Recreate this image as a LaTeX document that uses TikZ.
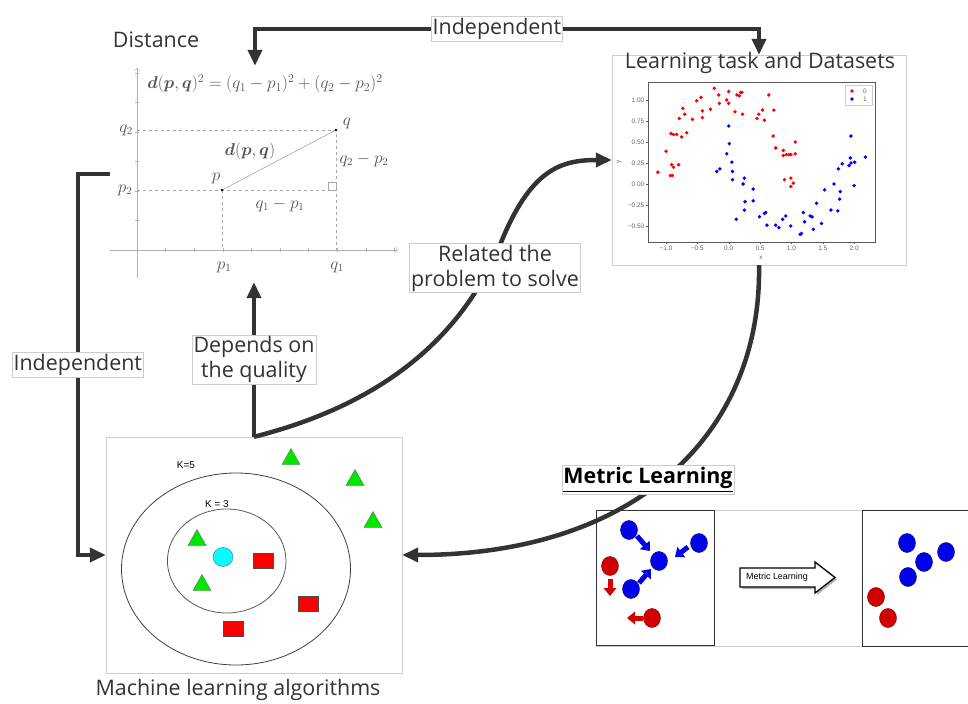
\documentclass[tikz,border=0pt]{standalone}
\usepackage{amsmath}
\usepackage{amssymb}
\usepackage{fontspec}
\setmainfont{Open Sans}
\newfontfamily\arialfont{Liberation Sans}
\usepackage{tikz}
\usetikzlibrary{arrows.meta,shapes,positioning}
\usepackage{xcolor}
\definecolor{mlgray}{RGB}{51,51,51}
\definecolor{mlframe}{RGB}{204,204,204}
\definecolor{mathgray}{RGB}{85,85,85}
\definecolor{ptred}{RGB}{255,0,0}
\definecolor{ptblue}{RGB}{0,0,255}
\definecolor{knngreen}{RGB}{0,230,0}
\definecolor{knnred}{RGB}{255,0,0}
\definecolor{knncyan}{RGB}{0,255,255}
\definecolor{mlblue}{RGB}{0,0,235}
\definecolor{mlred}{RGB}{210,0,0}
\tikzstyle{conn} = [line width=4.5bp, color=mlgray, -{Triangle[length=16bp,width=14bp]}]
\tikzstyle{twoway} = [conn, {Triangle[length=16bp,width=14bp]}-{Triangle[length=16bp,width=14bp]}]
\tikzstyle{lbl} = [rectangle, draw=mlframe, fill=white, thin, text=mlgray, font=\fontsize{21.5}{25}\selectfont, inner sep=1.5bp, align=center]
\tikzstyle{title} = [text=mlgray, font=\fontsize{21.5}{25}\selectfont]
\tikzstyle{panel} = [rectangle, draw=mlframe, thin]
\tikzstyle{mathlbl} = [text=mathgray, font=\fontsize{16}{18}\selectfont, inner sep=0]
\tikzstyle{tick} = [text=gray!80!black, font=\arialfont\fontsize{6.5}{7}\selectfont, inner sep=1bp]
\tikzstyle{push} = [line width=5bp, -{Triangle[length=8bp,width=12.5bp]}]

\begin{document}
\begin{tikzpicture}[x=1bp, y=-1bp]
\useasboundingbox (0,0) rectangle (968,704);
\fill[white] (0,0) rectangle (968,704);

% Distance
\node (dist) [minimum width=290bp, minimum height=216bp] at (255,174) {};
\node (disttitle) [title] at (156,40) {Distance};
\coordinate (p) at (222,190);
\coordinate (q) at (336,130);
\draw[gray!60, -{To[length=3bp]}] (110,250) -- (398,250);
\draw[gray!60, -{To[length=3bp]}] (137,278) -- (137,68);
\foreach \k in {1,...,9} \draw[gray!60] ({137+28.6*\k},248) -- ({137+28.6*\k},252);
\foreach \k in {1,...,6} \draw[gray!60] (135,{250-29.5*\k}) -- (139,{250-29.5*\k});
\draw[gray!70, dashed] (137,130) -- (q) -- (336,250);
\draw[gray!70, dashed] (137,190) -- (336,190);
\draw[gray!70, dashed] (p) -- (222,250);
\draw[gray!70, semithick] (p) -- (q);
\draw[gray!70] (328,182) rectangle (336,190);
\fill (p) circle (1.3bp) (q) circle (1.3bp);
\node (formula) [mathlbl, font=\fontsize{18.5}{20}\selectfont] at (265,84) {$\boldsymbol{d}(\boldsymbol{p},\boldsymbol{q})^2=(q_1-p_1)^2+(q_2-p_2)^2$};
\node (lq2) [mathlbl] at (126,130) {$q_2$};
\node (lp2) [mathlbl] at (125,190) {$p_2$};
\node (lp1) [mathlbl] at (224,267) {$p_1$};
\node (lq1) [mathlbl] at (337,267) {$q_1$};
\node (lp) [mathlbl] at (216,178) {$p$};
\node (lq) [mathlbl] at (347,123) {$q$};
\node (ldpq) [mathlbl] at (250,151) {$\boldsymbol{d}(\boldsymbol{p},\boldsymbol{q})$};
\node (ldy) [mathlbl] at (364,160) {$q_2-p_2$};
\node (ldx) [mathlbl] at (280,205) {$q_1-p_1$};

% Learning task and datasets
\node (data) [panel, minimum width=294bp, minimum height=210bp] at (759,160) {};
\node (datatitle) [title] at (760,63) {Learning task and Datasets};
\begin{scope}[shift={(728.7,184)}, x={(62.7bp,0)}, y={(0,84bp)}]
\draw[gray!70!black] (-1.287,-0.69) rectangle (2.333,1.214);
\foreach \t/\s in {-1/−1.0, -0.5/−0.5, 0/0.0, 0.5/0.5, 1/1.0, 1.5/1.5, 2/2.0}
  \draw[gray!70!black] (\t,-0.69) -- ++(0,-2.5bp) node[tick, below] {\s};
\foreach \t/\s in {1/1.00, 0.75/0.75, 0.5/0.50, 0.25/0.25, 0/0.00, -0.25/−0.25, -0.5/−0.50}
  \draw[gray!70!black] (-1.287,\t) -- ++(-2.5bp,0) node[tick, left] {\s};
\foreach \px/\py in {-1.13/0.14, -1.0/0.39, -0.93/0.10, -0.90/0.10, -0.91/0.23, -0.88/0.20, -0.80/0.23, -0.92/0.60, -0.88/0.59, -0.83/0.59, -0.75/0.56, -0.67/0.61, -0.79/0.78, -0.70/0.83, -0.73/0.90, -0.58/0.77, -0.51/0.99, -0.44/1.03, -0.42/0.87, -0.42/0.79, -0.29/0.89, -0.23/1.14, -0.16/1.06, -0.15/0.96, -0.03/1.00, 0.0/1.10, 0.0/0.96, 0.10/0.86, 0.13/1.06, 0.17/1.05, 0.19/1.09, 0.21/1.09, 0.22/0.83, 0.45/0.78, 0.48/0.83, 0.54/0.88, 0.57/0.76, 0.64/1.06, 0.72/0.88, 0.71/0.57, 0.75/0.43, 0.87/0.40, 0.87/0.34, 0.92/0.35, 0.96/0.35, 0.99/0.35, 1.06/0.50, 1.06/0.36, 0.89/0.05, 0.99/0.07, 0.99/-0.03, 1.03/0.01}
  \fill[ptred] (\px,\py) circle (1.9bp);
\foreach \px/\py in {0.0/0.69, 0.01/0.48, -0.03/0.36, 0.05/0.26, 0.06/0.15, 0.06/0.05, -0.19/0.15, -0.14/0.18, 0.25/0.07, 0.23/0.0, 0.39/-0.06, 0.26/-0.21, 0.39/-0.20, 0.25/-0.31, 0.12/-0.42, 0.49/-0.39, 0.57/-0.35, 0.59/-0.34, 0.61/-0.49, 0.75/-0.49, 0.80/-0.52, 0.86/-0.42, 0.91/-0.38, 0.99/-0.50, 1.14/-0.60, 1.16/-0.59, 1.19/-0.34, 1.21/-0.45, 1.30/-0.38, 1.33/-0.39, 1.35/-0.54, 1.40/-0.23, 1.48/-0.47, 1.53/-0.07, 1.63/-0.31, 1.68/0.0, 1.74/-0.32, 1.77/-0.18, 1.78/-0.09, 1.75/0.18, 1.81/0.24, 1.92/0.22, 1.95/0.25, 1.94/0.31, 1.95/0.57, 2.00/-0.02, 2.01/0.26, 2.18/0.32}
  \fill[ptblue] (\px,\py) circle (1.9bp);
\end{scope}
\node (xlab) [tick] at (761,258) {x};
\node (ylab) [tick, rotate=90] at (619,162) {y};
\draw[gray!40, fill=white] (845,85) rectangle (872,105);
\fill[ptred] (852,91) circle (1.9bp);
\fill[ptblue] (852,99) circle (1.9bp);
\node (leg0) [tick] at (865,91) {0};
\node (leg1) [tick] at (865,99) {1};

% KNN
\node (knn) [panel, minimum width=296bp, minimum height=236bp] at (254,555) {};
\draw[black!75, line width=0.8bp] (236,569) ellipse [x radius=114.5bp, y radius=96bp];
\draw[black!65, line width=0.8bp] (226.7,561) ellipse [x radius=59.3bp, y radius=52bp];
\node (k5) [font=\arialfont\fontsize{10}{12}\selectfont] at (186,465) {K=5};
\node (k3) [font=\arialfont\fontsize{10}{12}\selectfont] at (217,504) {K = 3};
\foreach \x/\y in {197/538, 202/583, 291/457, 355/478, 373/520}
  \filldraw[fill=knngreen, draw=black!60] ({\x-9},{\y+7.5}) -- ({\x+9},{\y+7.5}) -- (\x,{\y-8.5}) -- cycle;
\foreach \x/\y in {263/561, 308/604, 233/629}
  \filldraw[fill=knnred, draw=black!70] ({\x-10},{\y-7.5}) rectangle ({\x+10},{\y+7.5});
\filldraw[fill=knncyan, draw=black!60] (223,557) ellipse [x radius=10bp, y radius=9.5bp];
\node (knntitle) [title, below=2bp of knn, xshift=-16bp] {Machine learning algorithms};

% Connectors
\draw[twoway] (dist.north) -- ++(0,-37) -| node (ind1) [lbl, pos=0.24] {Independent} (data.north);
\draw[conn] (dist.west) -- ++(-32,0) |- node (ind2) [lbl, pos=0.25] {Independent} (knn.west);
\draw[conn] (knn.north) .. controls (380,405) and (460,340) .. (500,245) .. controls (530,170) and (560,160) .. (data.west);
\draw[conn] (knn.north) -- node (dep) [lbl, pos=0.5] {Depends on\\the quality} (knn.north |- dist.south);
\node (rel) [lbl] at (495,268) {Related the\\problem to solve};
\draw[conn] (data.south) .. controls (762,430) and (640,555) .. (knn.east);

% Metric learning
\draw[mlframe] (596,510) rectangle (975,646);
\node (mlleft) [draw=black!80, semithick, minimum width=118bp, minimum height=135bp] at (655,577.5) {};
\node (mlright) [draw=black!80, semithick, minimum width=120bp, minimum height=136bp, anchor=west] at (862,578) {};
\node (mlhead) [lbl, text=black, font=\bfseries\fontsize{21.5}{25}\selectfont] at (648,480) {\underline{Metric Learning}};
\foreach \x/\y in {629/530, 659/561, 699/543, 631/589, 907/543, 924/562, 946/552, 908/577}
  \filldraw[fill=mlblue, draw=blue!40!black] (\x,\y) ellipse [x radius=8.5bp, y radius=9.5bp];
\foreach \x/\y in {610/566, 652/618, 876/597, 888/618}
  \filldraw[fill=mlred, draw=red!40!black] (\x,\y) ellipse [x radius=8.5bp, y radius=9.5bp];
\draw[push, mlblue] (637,536) -- (650,551);
\draw[push, mlblue] (688,547) -- (675,557);
\draw[push, mlblue] (639,583) -- (651,569);
\draw[push, mlred] (610,579) -- (610,596);
\draw[push, mlred] (643,618) -- (627,618);
\fill[gray!60] (742,570) -- (817,570) -- (817,564) -- (837,579.5) -- (817,595) -- (817,589) -- (742,589) -- cycle;
\filldraw[fill=white, draw=black, line width=1.3bp] (740,568) -- (815,568) -- (815,562) -- (835,577.5) -- (815,593) -- (815,587) -- (740,587) -- cycle;
\node (mlarrow) [font=\arialfont\fontsize{9}{10}\selectfont, inner sep=0] at (777,577) {Metric Learning};
\end{tikzpicture}
\end{document}
